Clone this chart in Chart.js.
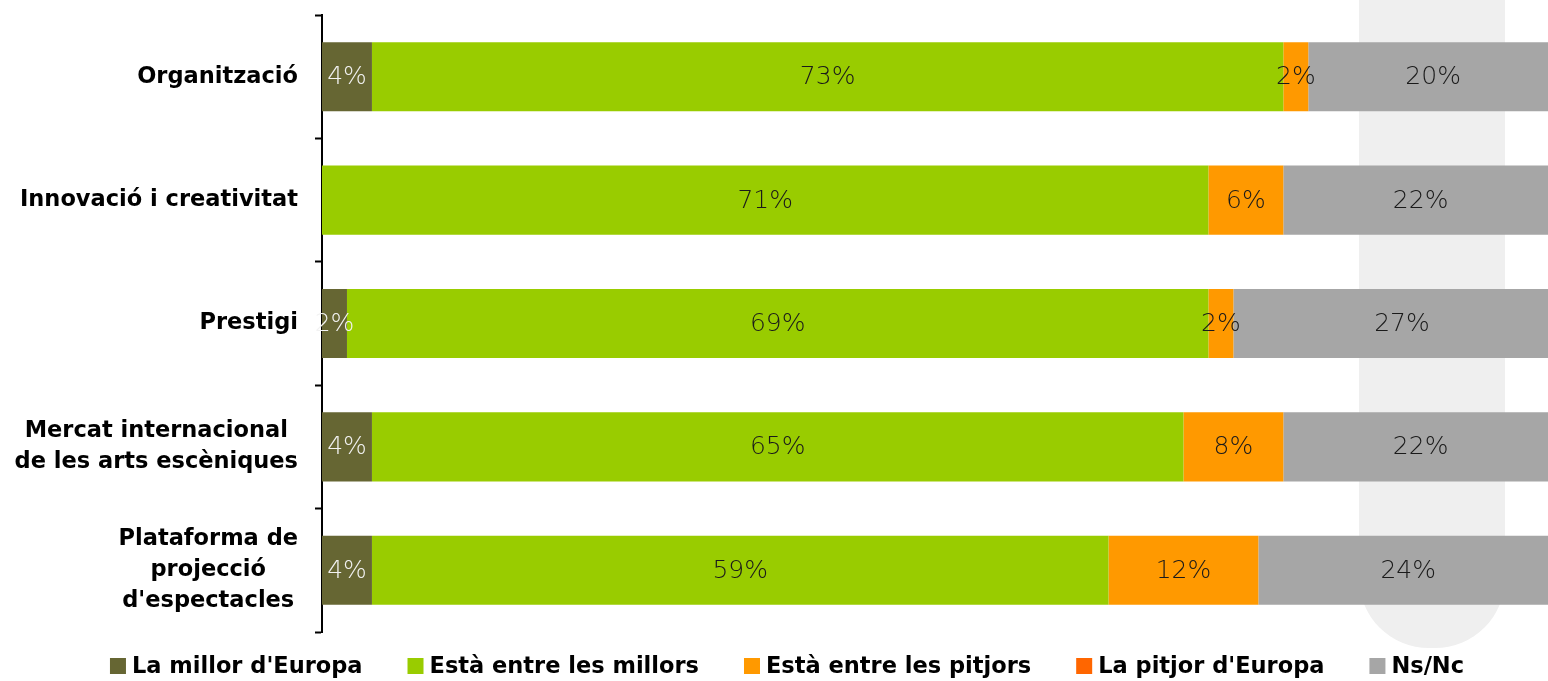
<!DOCTYPE html>
<html><head><meta charset="utf-8">
<script src="https://cdn.jsdelivr.net/npm/chart.js@4/dist/chart.umd.min.js"></script>
<style>html,body{margin:0;padding:0;background:#fff;overflow:hidden}#wrap{width:1548px;height:681px;position:relative}</style>
</head><body><div id="wrap"><canvas id="c" width="1548" height="681" style="width:1548px;height:681px"></canvas></div>
<script>
const categories = [
  ["Organització"],
  ["Innovació i creativitat"],
  ["Prestigi"],
  ["Mercat internacional", "de les arts escèniques"],
  ["Plataforma de", "projecció", "d'espectacles"]
];
const seriesNames = ["La millor d'Europa", "Està entre les millors", "Està entre les pitjors", "La pitjor d'Europa", "Ns/Nc"];
const millor  = [4, 0, 2, 4, 4];
const millors = [73, 71, 69, 65, 59];
const pitjors = [2, 6, 2, 8, 12];
const pitjor  = [0, 0, 0, 0, 0];
const nsnc    = [20, 22, 27, 22, 24];
const colors = ["#666633", "#99cc00", "#ff9900", "#ff6600", "#a6a6a6"];
const labelColors = ["#f2f2f2", "#1a1a1a", "#1a1a1a", "#1a1a1a", "#1a1a1a"];

const seriesValues = [millor, millors, pitjors, pitjor, nsnc];

const bgShape = {
  id: 'bgShape',
  beforeDraw(chart) {
    const ctx = chart.ctx;
    ctx.save();
    ctx.fillStyle = '#efefef';
    ctx.beginPath();
    ctx.roundRect(1359, -100, 146, 748, [0, 0, 70, 70]);
    ctx.fill();
    ctx.restore();
  }
};

const segLabels = {
  id: 'segLabels',
  afterDatasetsDraw(chart) {
    const ctx = chart.ctx;
    ctx.save();
    ctx.font = '200 25px "DejaVu Sans", sans-serif';
    ctx.textAlign = 'center';
    ctx.textBaseline = 'middle';
    chart.data.datasets.forEach((ds, di) => {
      const meta = chart.getDatasetMeta(di);
      meta.data.forEach((el, i) => {
        const v = ds.data[i];
        if (!v) return;
        ctx.fillStyle = labelColors[di];
        ctx.fillText(v + '%', (el.x + el.base) / 2, el.y + 1);
      });
    });
    ctx.restore();
  }
};

const catLabels = {
  id: 'catLabels',
  afterDraw(chart) {
    const ctx = chart.ctx;
    const ys = chart.scales.y;
    ctx.save();
    ctx.font = 'bold 22.5px "DejaVu Sans", sans-serif';
    ctx.fillStyle = '#000';
    ctx.textAlign = 'center';
    ctx.textBaseline = 'middle';
    const lh = 31;
    const right = ys.right - 24;
    chart.data.labels.forEach((lines, i) => {
      const yc = ys.getPixelForTick(i);
      const widest = Math.max(...lines.map(l => ctx.measureText(l).width));
      const cx = right - widest / 2;
      const y0 = yc - (lines.length - 1) * lh / 2;
      lines.forEach((l, k) => ctx.fillText(l, cx, y0 + k * lh));
    });
    // legend
    ctx.textAlign = 'left';
    const box = 16, gapBT = 6, gapItem = 45;
    const items = chart.data.datasets.map(ds => ({text: ds.label, color: ds.backgroundColor, w: ctx.measureText(ds.label).width}));
    const total = items.reduce((s, it) => s + box + gapBT + it.w, 0) + gapItem * (items.length - 1);
    let x = 787 - total / 2;
    const ly = 666;
    items.forEach(it => {
      ctx.fillStyle = it.color;
      ctx.fillRect(x, ly - box / 2, box, box);
      ctx.fillStyle = '#000';
      ctx.fillText(it.text, x + box + gapBT, ly + 1);
      x += box + gapBT + it.w + gapItem;
    });
    ctx.restore();
  }
};

new Chart(document.getElementById('c'), {
  type: 'bar',
  data: {
    labels: categories,
    datasets: seriesNames.map((n, i) => ({
      label: n,
      data: seriesValues[i],
      backgroundColor: colors[i],
      borderWidth: 0,
      barPercentage: 1,
      categoryPercentage: 0.56
    }))
  },
  options: {
    indexAxis: 'y',
    responsive: false,
    animation: false,
    devicePixelRatio: 1,
    layout: { padding: { top: 15, bottom: 49, left: 0, right: 0 } },
    plugins: { legend: { display: false }, tooltip: { enabled: false } },
    scales: {
      x: { stacked: true, display: false, min: 0, max: 98.2 },
      y: {
        stacked: true,
        afterFit(s) { s.width = 322; },
        ticks: { display: false },
        grid: { drawOnChartArea: false, drawTicks: true, tickLength: 7, tickWidth: 2, tickColor: '#000', offset: true },
        border: { display: true, color: '#000', width: 2 }
      }
    }
  },
  plugins: [bgShape, segLabels, catLabels]
});
</script>
</body></html>
